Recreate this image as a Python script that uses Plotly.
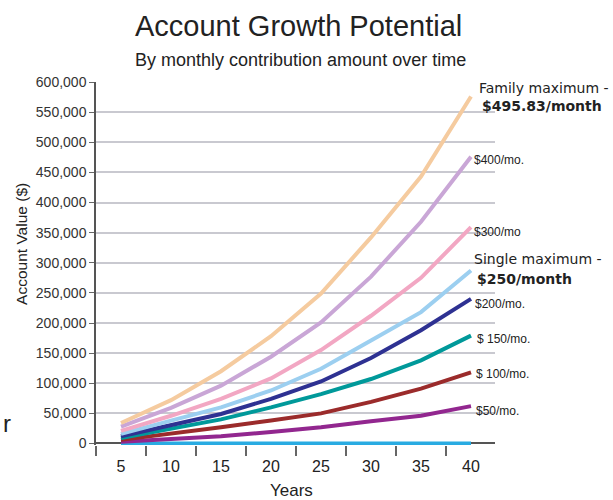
import plotly.graph_objects as go

years = [5, 10, 15, 20, 25, 30, 35, 40]
family_max = [34000, 72000, 120000, 178000, 249000, 342000, 443000, 576000]
mo_400 = [28000, 59000, 96000, 144000, 201000, 277000, 368000, 476000]
mo_300 = [21000, 46000, 74000, 108000, 155000, 212000, 275000, 359000]
single_max = [16000, 38000, 60000, 88000, 124000, 171000, 218000, 287000]
mo_200 = [12000, 30000, 49000, 74000, 103000, 142000, 188000, 240000]
mo_150 = [9000, 24000, 40000, 60000, 82000, 107000, 138000, 179000]
mo_100 = [6000, 16000, 27000, 38000, 50000, 69000, 91000, 118000]
mo_50 = [3000, 8000, 12000, 19000, 27000, 37000, 46000, 62000]
mo_0 = [0, 0, 0, 0, 0, 0, 0, 0]

y_ticks = [0, 50000, 100000, 150000, 200000, 250000, 300000, 350000, 400000, 450000, 500000, 550000, 600000]
x_ticks = years
x_tick_marks = [2.5, 7.5, 12.5, 17.5, 22.5, 27.5, 32.5, 37.5]

series = [
    (mo_0, "#29ABE2"),
    (mo_50, "#92278F"),
    (mo_100, "#9B2B2B"),
    (mo_150, "#00999A"),
    (mo_200, "#2E3192"),
    (single_max, "#9CCFF0"),
    (mo_300, "#F2A7C3"),
    (mo_400, "#C9A6D6"),
    (family_max, "#F5CB9F"),
]

fig = go.Figure()
for vals, col in series:
    fig.add_trace(go.Scatter(x=years, y=vals, mode="lines",
                             line=dict(color=col, width=4), showlegend=False,
                             hoverinfo="skip"))

L, R, T, B = 96, 118, 82, 55
W, H = 613, 500
pw, ph = W - L - R, H - T - B


def px(x):
    return (x - L) / pw


def py(y):
    return (443 - y) / 361.0


sans = "Liberation Sans, Arial"
annos = [
    ("Account Growth Potential", 298, 26, 29, sans, "center", "#222"),
    ("By monthly contribution amount over time", 300, 60, 18, sans, "center", "#222"),
    ("Family maximum -", 477, 88, 14, "DejaVu Sans", "left", "#222"),
    ("<b>$495.83/month</b>", 480, 106, 14, "DejaVu Sans", "left", "#222"),
    ("$400/mo.", 472, 160, 12, sans, "left", "#222"),
    ("$300/mo", 472, 231, 12, sans, "left", "#222"),
    ("Single maximum -", 472, 258, 14, "DejaVu Sans", "left", "#222"),
    ("<b>$250/month</b>", 475, 278, 14, "DejaVu Sans", "left", "#222"),
    ("$200/mo.", 473, 303, 12, sans, "left", "#222"),
    ("$ 150/mo.", 475, 338, 12, sans, "left", "#222"),
    ("$ 100/mo.", 474, 372, 12, sans, "left", "#222"),
    ("$50/mo.", 474, 409, 12, sans, "left", "#222"),
    ("Years", 291, 488, 17, sans, "center", "#222"),
    ("r", 7, 422, 24, sans, "center", "#222"),
]
annotations = []
for text, x, y, size, fam, anchor, col in annos:
    annotations.append(dict(text=text, x=px(x), y=py(y), xref="paper", yref="paper",
                            xanchor=anchor, yanchor="middle", showarrow=False,
                            font=dict(size=size, family=fam, color=col)))
annotations.append(dict(text="Account Value ($)", x=px(22), y=py(243), xref="paper", yref="paper",
                        xanchor="center", yanchor="middle", showarrow=False, textangle=-90,
                        font=dict(size=15.5, family=sans, color="#222")))

fig.update_layout(
    width=W, height=H,
    margin=dict(l=L, r=R, t=T, b=B, pad=0),
    paper_bgcolor="white", plot_bgcolor="white",
    annotations=annotations,
    xaxis=dict(range=[2.5, 42.4], tickvals=x_ticks, ticktext=[str(v) for v in x_ticks],
               ticks="", showgrid=False, zeroline=False, showline=False,
               tickfont=dict(size=16, family=sans, color="#222"),
               ticklabelstandoff=10,
               minor=dict(tickvals=x_tick_marks, ticks="outside", ticklen=10,
                          tickcolor="#666", tickwidth=1.5, showgrid=False)),
    yaxis=dict(range=[-2500, 600000], tickvals=y_ticks, tickformat=",",
               ticks="outside", ticklen=5, tickcolor="#666", tickwidth=1,
               showgrid=True, gridcolor="#C9C9D0", gridwidth=1.5,
               zeroline=True, zerolinecolor="#555", zerolinewidth=1.5,
               showline=True, linecolor="#555", linewidth=1.5,
               tickfont=dict(size=14, family=sans, color="#333")),
)

fig.write_html("out.html")
